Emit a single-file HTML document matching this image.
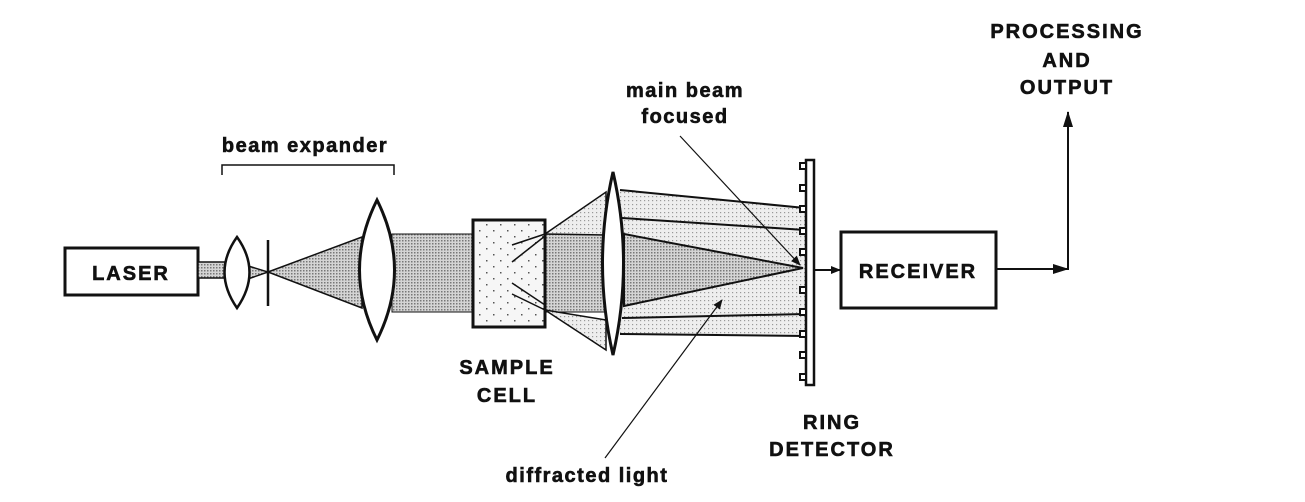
<!DOCTYPE html>
<html><head><style>
html,body{margin:0;padding:0;background:#fff}
svg{display:block}
text{font-family:"Liberation Sans",sans-serif;font-weight:bold;fill:#111;stroke:#111;stroke-width:0.6}
</style></head><body>
<svg width="1305" height="502" viewBox="0 0 1305 502" xmlns="http://www.w3.org/2000/svg">
<defs>
<pattern id="dk" width="3" height="3" patternUnits="userSpaceOnUse"><rect width="3" height="3" fill="#d4d4d4"/><rect width="1.5" height="1.5" fill="#777"/></pattern>
<pattern id="lt" width="4" height="4" patternUnits="userSpaceOnUse"><rect width="4" height="4" fill="#eee"/><rect width="1.2" height="1.2" fill="#999"/></pattern>
<pattern id="sp" width="14" height="12" patternUnits="userSpaceOnUse"><rect width="14" height="12" fill="#f6f6f6"/><rect x="3" y="2" width="1.5" height="1.5" fill="#555"/><rect x="10" y="8" width="1.5" height="1.5" fill="#555"/></pattern>
<marker id="ah" markerWidth="10" markerHeight="8" refX="9" refY="4" orient="auto" markerUnits="userSpaceOnUse"><path d="M0,0 L10,4 L0,8 z" fill="#111"/></marker>
<marker id="ahb" markerWidth="16" markerHeight="10" refX="15" refY="5" orient="auto" markerUnits="userSpaceOnUse"><path d="M0,0 L16,5 L0,10 z" fill="#111"/></marker>
</defs>
<g stroke="#111" fill="none">
<rect x="65" y="248" width="133" height="47" stroke-width="3" fill="#fff"/>
<rect x="198" y="262" width="28" height="16" fill="url(#dk)" stroke-width="1.5"/>
<path d="M245,265 L268,272 L245,280 z" fill="url(#dk)" stroke-width="1.5"/>
<path d="M268,272 L362,237 L362,308 z" fill="url(#dk)" stroke-width="1.5"/>
<line x1="268" y1="240" x2="268" y2="306" stroke-width="2.5"/>
<path d="M237,237 Q262,272 237,308 Q212,272 237,237 z" fill="#fff" stroke-width="2.5"/>
<rect x="392" y="234" width="220" height="78" fill="url(#dk)" stroke-width="1"/>
<path d="M377,200 Q412,270 377,340 Q342,270 377,200 z" fill="#fff" stroke-width="3"/>
<rect x="473" y="220" width="72" height="107" fill="url(#sp)" stroke-width="3"/>
<path d="M545,234 L606,192 L606,235 z" fill="url(#lt)" stroke-width="1.5"/>
<path d="M545,310 L606,350 L606,320 z" fill="url(#lt)" stroke-width="1.5"/>
<line x1="512" y1="245" x2="545" y2="234" stroke-width="1.5"/>
<line x1="512" y1="262" x2="545" y2="236" stroke-width="1.5"/>
<line x1="512" y1="283" x2="545" y2="305" stroke-width="1.5"/>
<line x1="512" y1="294" x2="545" y2="310" stroke-width="1.5"/>
<path d="M620,190 L805,208 L805,336 L620,334 z" fill="url(#lt)" stroke="none"/>
<path d="M624,234 L803,268 L624,306 z" fill="url(#dk)" stroke-width="2"/>
<line x1="620" y1="190" x2="805" y2="208" stroke-width="2"/>
<line x1="622" y1="218" x2="805" y2="230" stroke-width="2"/>
<line x1="622" y1="318" x2="805" y2="314" stroke-width="2"/>
<line x1="620" y1="334" x2="805" y2="336" stroke-width="2"/>
<path d="M613,172 Q634,263 613,355 Q592,263 613,172 z" fill="#fff" stroke-width="3"/>
<rect x="806" y="160" width="8" height="225" fill="#fff" stroke-width="2.5"/>
<g stroke-width="2" fill="#fff">
<rect x="800" y="163" width="6" height="6"/><rect x="800" y="185" width="6" height="6"/><rect x="800" y="206" width="6" height="6"/><rect x="800" y="228" width="6" height="6"/><rect x="800" y="249" width="6" height="6"/><rect x="800" y="287" width="6" height="6"/><rect x="800" y="309" width="6" height="6"/><rect x="800" y="331" width="6" height="6"/><rect x="800" y="352" width="6" height="6"/><rect x="800" y="374" width="6" height="6"/>
</g>
<line x1="814" y1="270" x2="840" y2="270" stroke-width="2" marker-end="url(#ah)"/>
<rect x="841" y="232" width="155" height="76" stroke-width="3" fill="#fff"/>
<line x1="996" y1="269" x2="1068" y2="269" stroke-width="2" marker-end="url(#ahb)"/>
<polyline points="1040,269 1068,269 1068,112" stroke-width="2" marker-end="url(#ahb)"/>
<polyline points="222,175 222,165 394,165 394,175" stroke-width="1.5"/>
<line x1="680" y1="136" x2="800" y2="265" stroke-width="1.2" marker-end="url(#ah)"/>
<line x1="605" y1="458" x2="722" y2="300" stroke-width="1.2" marker-end="url(#ah)"/>
</g>
<g font-size="20" letter-spacing="2">
<text x="131" y="280" text-anchor="middle">LASER</text>
<text x="918" y="278" text-anchor="middle">RECEIVER</text>
<text x="507" y="374" text-anchor="middle">SAMPLE</text>
<text x="507" y="402" text-anchor="middle">CELL</text>
<text x="832" y="429" text-anchor="middle">RING</text>
<text x="832" y="456" text-anchor="middle">DETECTOR</text>
<text x="1067" y="38" text-anchor="middle">PROCESSING</text>
<text x="1067" y="67" text-anchor="middle">AND</text>
<text x="1067" y="94" text-anchor="middle">OUTPUT</text>
</g>
<g font-size="20" letter-spacing="1.5">
<text x="305" y="152" text-anchor="middle">beam expander</text>
<text x="685" y="97" text-anchor="middle">main beam</text>
<text x="685" y="123" text-anchor="middle">focused</text>
<text x="587" y="482" text-anchor="middle">diffracted light</text>
</g>
</svg>
</body></html>
